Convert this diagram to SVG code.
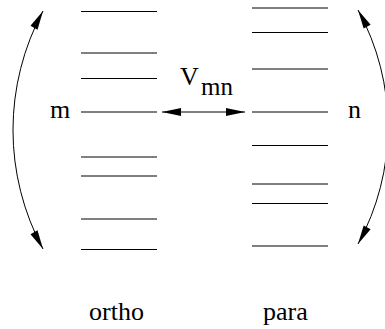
<svg xmlns="http://www.w3.org/2000/svg" width="385" height="329" viewBox="0 0 385 329">
<style>
.lvl{stroke:#000;stroke-width:1;fill:none}
.t{font-family:"Liberation Serif","Times New Roman",serif;font-size:26px;fill:#000}
.sub{font-size:25px}
.con{stroke:#000;stroke-width:1;fill:none}
</style>
<defs>
<marker id="ah" viewBox="-20 -5 20 10" refX="0" refY="0" markerWidth="20" markerHeight="10" markerUnits="userSpaceOnUse" orient="auto-start-reverse">
<path d="M0,0 L-19,-4 L-19,4 Z" fill="#000"/>
</marker>
</defs>
<rect width="385" height="329" fill="#fff"/>
<g id="ortho">
<path class="lvl" d="M81,11.5H157M81,53H157M81,78.5H157M81,112H157M81,157H157M81,176H157M81,219H157M81,249.5H157"/>
<text class="t" x="89" y="320">ortho</text>
</g>
<g id="para">
<path class="lvl" d="M252,8H328M252,32.5H328M252,69H328M252,112H328M252,145.5H328M252,184H328M252,203.5H328M252,246H328"/>
<text class="t" x="263" y="320">para</text>
</g>
<g id="m">
<text class="t" x="50" y="118">m</text>
</g>
<g id="n">
<text class="t" x="348" y="118">n</text>
</g>
<g id="vmn">
<text class="t" x="180" y="85">V<tspan class="sub" x="201" y="95">mn</tspan></text>
</g>
<g id="connectors">
<path class="con" d="M162,112 L245,112" marker-start="url(#ah)" marker-end="url(#ah)"/>
<path class="con" d="M43,11 A251,251 0 0 0 43,249" marker-start="url(#ah)" marker-end="url(#ah)"/>
<path class="con" d="M358,10 A243,243 0 0 1 358,244" marker-start="url(#ah)" marker-end="url(#ah)"/>
</g>
</svg>
